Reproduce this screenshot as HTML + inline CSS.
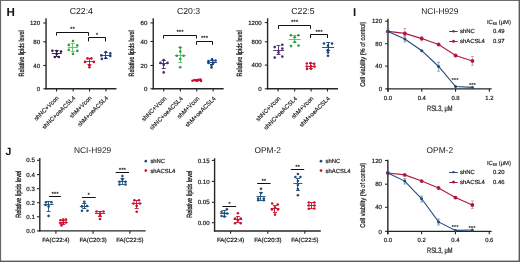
<!DOCTYPE html>
<html><head><meta charset="utf-8"><style>
html,body{margin:0;padding:0;background:#fff;}
body{width:520px;height:262px;overflow:hidden;position:relative;}
svg{position:absolute;left:0;top:0;will-change:transform;}
text{font-family:"Liberation Sans", sans-serif;text-rendering:geometricPrecision;}
</style></head><body>
<svg width="520" height="262" viewBox="0 0 520 262">
<rect x="0" y="0" width="520" height="262" fill="#fff"/>
<line x1="46.05" y1="18.30" x2="46.05" y2="89.45" stroke="#262626" stroke-width="1.4"/>
<line x1="45.35" y1="88.75" x2="116.45" y2="88.75" stroke="#262626" stroke-width="1.4"/>
<line x1="43.25" y1="88.75" x2="46.05" y2="88.75" stroke="#262626" stroke-width="1.1"/>
<text x="40.15" y="90.90" font-size="6.1" text-anchor="end" fill="#151515" font-weight="normal" stroke="#151515" stroke-width="0.18" >0</text>
<line x1="43.25" y1="65.50" x2="46.05" y2="65.50" stroke="#262626" stroke-width="1.1"/>
<text x="40.15" y="67.65" font-size="6.1" text-anchor="end" fill="#151515" font-weight="normal" stroke="#151515" stroke-width="0.18" >40</text>
<line x1="43.25" y1="41.80" x2="46.05" y2="41.80" stroke="#262626" stroke-width="1.1"/>
<text x="40.15" y="43.95" font-size="6.1" text-anchor="end" fill="#151515" font-weight="normal" stroke="#151515" stroke-width="0.18" >80</text>
<line x1="43.25" y1="23.00" x2="46.05" y2="23.00" stroke="#262626" stroke-width="1.1"/>
<text x="40.15" y="25.15" font-size="6.1" text-anchor="end" fill="#151515" font-weight="normal" stroke="#151515" stroke-width="0.18" >120</text>
<line x1="56.55" y1="88.75" x2="56.55" y2="91.55" stroke="#262626" stroke-width="1.1"/>
<text x="59.15" y="98.30" font-size="6.0" text-anchor="end" fill="#151515" stroke="#151515" stroke-width="0.15" transform="rotate(-45 59.15 98.30)">shNC+Vcon</text>
<line x1="73.15" y1="88.75" x2="73.15" y2="91.55" stroke="#262626" stroke-width="1.1"/>
<text x="75.75" y="98.30" font-size="6.0" text-anchor="end" fill="#151515" stroke="#151515" stroke-width="0.15" transform="rotate(-45 75.75 98.30)">shNC+oeACSL4</text>
<line x1="89.55" y1="88.75" x2="89.55" y2="91.55" stroke="#262626" stroke-width="1.1"/>
<text x="92.15" y="98.30" font-size="6.0" text-anchor="end" fill="#151515" stroke="#151515" stroke-width="0.15" transform="rotate(-45 92.15 98.30)">shM+Vcon</text>
<line x1="105.95" y1="88.75" x2="105.95" y2="91.55" stroke="#262626" stroke-width="1.1"/>
<text x="108.55" y="98.30" font-size="6.0" text-anchor="end" fill="#151515" stroke="#151515" stroke-width="0.15" transform="rotate(-45 108.55 98.30)">shM+oeACSL4</text>
<text x="81.35" y="13.60" font-size="8.7" text-anchor="middle" fill="#151515" font-weight="normal" >C22:4</text>
<text x="24.30" y="53.40" font-size="7.6" text-anchor="middle" fill="#111" stroke="#111" stroke-width="0.25" textLength="46" lengthAdjust="spacingAndGlyphs" transform="rotate(-90 24.30 53.40)">Relative lipids level</text>
<line x1="56.50" y1="51.00" x2="56.50" y2="56.00" stroke="#2a1845" stroke-width="0.9"/>
<line x1="54.70" y1="50.50" x2="58.70" y2="50.50" stroke="#2a1845" stroke-width="0.9"/>
<line x1="54.70" y1="56.50" x2="58.70" y2="56.50" stroke="#2a1845" stroke-width="0.9"/>
<line x1="51.70" y1="53.50" x2="61.70" y2="53.50" stroke="#2a1845" stroke-width="0.9"/>
<circle cx="52.40" cy="50.80" r="1.3" fill="#2a1845"/>
<circle cx="56.70" cy="51.10" r="1.3" fill="#2a1845"/>
<circle cx="61.00" cy="51.60" r="1.3" fill="#2a1845"/>
<circle cx="56.70" cy="54.00" r="1.3" fill="#2a1845"/>
<circle cx="54.80" cy="57.00" r="1.3" fill="#2a1845"/>
<circle cx="58.80" cy="57.00" r="1.3" fill="#2a1845"/>
<line x1="72.50" y1="43.30" x2="72.50" y2="51.40" stroke="#5cbf62" stroke-width="0.9"/>
<line x1="70.90" y1="43.50" x2="74.90" y2="43.50" stroke="#5cbf62" stroke-width="0.9"/>
<line x1="70.90" y1="51.50" x2="74.90" y2="51.50" stroke="#5cbf62" stroke-width="0.9"/>
<line x1="67.90" y1="47.50" x2="77.90" y2="47.50" stroke="#5cbf62" stroke-width="0.9"/>
<circle cx="73.00" cy="41.00" r="1.3" fill="#2f9a3e"/>
<circle cx="68.80" cy="44.90" r="1.3" fill="#2f9a3e"/>
<circle cx="77.30" cy="45.40" r="1.3" fill="#2f9a3e"/>
<circle cx="68.80" cy="49.90" r="1.3" fill="#2f9a3e"/>
<circle cx="77.30" cy="50.90" r="1.3" fill="#2f9a3e"/>
<circle cx="73.00" cy="53.90" r="1.3" fill="#2f9a3e"/>
<line x1="89.50" y1="58.50" x2="89.50" y2="65.00" stroke="#c8102e" stroke-width="0.9"/>
<line x1="87.40" y1="58.50" x2="91.40" y2="58.50" stroke="#c8102e" stroke-width="0.9"/>
<line x1="87.40" y1="64.50" x2="91.40" y2="64.50" stroke="#c8102e" stroke-width="0.9"/>
<line x1="84.90" y1="61.50" x2="93.90" y2="61.50" stroke="#c8102e" stroke-width="0.9"/>
<circle cx="87.50" cy="58.40" r="1.3" fill="#c8102e"/>
<circle cx="91.40" cy="58.40" r="1.3" fill="#c8102e"/>
<circle cx="85.00" cy="61.90" r="1.3" fill="#c8102e"/>
<circle cx="93.90" cy="61.90" r="1.3" fill="#c8102e"/>
<circle cx="89.40" cy="65.30" r="1.3" fill="#c8102e"/>
<circle cx="89.40" cy="67.30" r="1.3" fill="#c8102e"/>
<line x1="105.50" y1="52.50" x2="105.50" y2="58.30" stroke="#1a3f7e" stroke-width="0.9"/>
<line x1="103.80" y1="52.50" x2="107.80" y2="52.50" stroke="#1a3f7e" stroke-width="0.9"/>
<line x1="103.80" y1="58.50" x2="107.80" y2="58.50" stroke="#1a3f7e" stroke-width="0.9"/>
<line x1="100.80" y1="55.50" x2="110.80" y2="55.50" stroke="#1a3f7e" stroke-width="0.9"/>
<circle cx="105.80" cy="52.00" r="1.3" fill="#1a3f7e"/>
<circle cx="101.30" cy="55.40" r="1.3" fill="#1a3f7e"/>
<circle cx="110.30" cy="53.40" r="1.3" fill="#1a3f7e"/>
<circle cx="110.30" cy="55.90" r="1.3" fill="#1a3f7e"/>
<circle cx="101.80" cy="58.90" r="1.3" fill="#1a3f7e"/>
<circle cx="105.80" cy="58.00" r="1.3" fill="#1a3f7e"/>
<polyline points="56.50,35.60 56.50,32.50 88.50,32.50 88.50,35.80" fill="none" stroke="#111" stroke-width="1"/>
<text x="72.50" y="31.40" font-size="6.2" text-anchor="middle" fill="#151515" font-weight="bold" >**</text>
<polyline points="88.50,41.40 88.50,37.50 105.50,37.50 105.50,41.40" fill="none" stroke="#111" stroke-width="1"/>
<text x="97.00" y="37.20" font-size="6.2" text-anchor="middle" fill="#151515" font-weight="bold" >*</text>
<line x1="153.25" y1="18.30" x2="153.25" y2="89.45" stroke="#262626" stroke-width="1.4"/>
<line x1="152.55" y1="88.75" x2="223.65" y2="88.75" stroke="#262626" stroke-width="1.4"/>
<line x1="150.45" y1="88.75" x2="153.25" y2="88.75" stroke="#262626" stroke-width="1.1"/>
<text x="147.35" y="90.90" font-size="6.1" text-anchor="end" fill="#151515" font-weight="normal" stroke="#151515" stroke-width="0.18" >0</text>
<line x1="150.45" y1="65.50" x2="153.25" y2="65.50" stroke="#262626" stroke-width="1.1"/>
<text x="147.35" y="67.65" font-size="6.1" text-anchor="end" fill="#151515" font-weight="normal" stroke="#151515" stroke-width="0.18" >20</text>
<line x1="150.45" y1="41.50" x2="153.25" y2="41.50" stroke="#262626" stroke-width="1.1"/>
<text x="147.35" y="43.65" font-size="6.1" text-anchor="end" fill="#151515" font-weight="normal" stroke="#151515" stroke-width="0.18" >40</text>
<line x1="150.45" y1="22.90" x2="153.25" y2="22.90" stroke="#262626" stroke-width="1.1"/>
<text x="147.35" y="25.05" font-size="6.1" text-anchor="end" fill="#151515" font-weight="normal" stroke="#151515" stroke-width="0.18" >60</text>
<line x1="163.75" y1="88.75" x2="163.75" y2="91.55" stroke="#262626" stroke-width="1.1"/>
<text x="166.75" y="98.90" font-size="6.0" text-anchor="end" fill="#151515" stroke="#151515" stroke-width="0.15" transform="rotate(-45 166.75 98.90)">shNC+Vcon</text>
<line x1="180.35" y1="88.75" x2="180.35" y2="91.55" stroke="#262626" stroke-width="1.1"/>
<text x="183.35" y="98.90" font-size="6.0" text-anchor="end" fill="#151515" stroke="#151515" stroke-width="0.15" transform="rotate(-45 183.35 98.90)">shNC+oeACSL4</text>
<line x1="196.75" y1="88.75" x2="196.75" y2="91.55" stroke="#262626" stroke-width="1.1"/>
<text x="199.75" y="98.90" font-size="6.0" text-anchor="end" fill="#151515" stroke="#151515" stroke-width="0.15" transform="rotate(-45 199.75 98.90)">shM+Vcon</text>
<line x1="213.15" y1="88.75" x2="213.15" y2="91.55" stroke="#262626" stroke-width="1.1"/>
<text x="216.15" y="98.90" font-size="6.0" text-anchor="end" fill="#151515" stroke="#151515" stroke-width="0.15" transform="rotate(-45 216.15 98.90)">shM+oeACSL4</text>
<text x="188.55" y="13.60" font-size="8.7" text-anchor="middle" fill="#151515" font-weight="normal" >C20:3</text>
<text x="133.80" y="53.40" font-size="7.6" text-anchor="middle" fill="#111" stroke="#111" stroke-width="0.25" textLength="46" lengthAdjust="spacingAndGlyphs" transform="rotate(-90 133.80 53.40)">Relative lipids level</text>
<line x1="163.50" y1="60.30" x2="163.50" y2="68.20" stroke="#4a2a6e" stroke-width="0.9"/>
<line x1="161.70" y1="60.50" x2="165.70" y2="60.50" stroke="#4a2a6e" stroke-width="0.9"/>
<line x1="161.70" y1="68.50" x2="165.70" y2="68.50" stroke="#4a2a6e" stroke-width="0.9"/>
<line x1="159.20" y1="63.50" x2="168.20" y2="63.50" stroke="#4a2a6e" stroke-width="0.9"/>
<circle cx="163.70" cy="60.00" r="1.3" fill="#4a2a6e"/>
<circle cx="160.50" cy="62.90" r="1.3" fill="#4a2a6e"/>
<circle cx="167.50" cy="62.90" r="1.3" fill="#4a2a6e"/>
<circle cx="163.70" cy="64.80" r="1.3" fill="#4a2a6e"/>
<circle cx="163.70" cy="72.40" r="1.3" fill="#4a2a6e"/>
<line x1="180.50" y1="47.80" x2="180.50" y2="62.90" stroke="#5cbf62" stroke-width="0.9"/>
<line x1="178.20" y1="47.50" x2="182.20" y2="47.50" stroke="#5cbf62" stroke-width="0.9"/>
<line x1="178.20" y1="62.50" x2="182.20" y2="62.50" stroke="#5cbf62" stroke-width="0.9"/>
<line x1="174.70" y1="55.50" x2="185.70" y2="55.50" stroke="#5cbf62" stroke-width="0.9"/>
<circle cx="180.20" cy="47.60" r="1.3" fill="#2f9a3e"/>
<circle cx="180.20" cy="51.50" r="1.3" fill="#2f9a3e"/>
<circle cx="176.80" cy="55.70" r="1.3" fill="#2f9a3e"/>
<circle cx="183.60" cy="55.70" r="1.3" fill="#2f9a3e"/>
<circle cx="180.20" cy="59.00" r="1.3" fill="#2f9a3e"/>
<circle cx="180.20" cy="67.30" r="1.3" fill="#2f9a3e"/>
<line x1="196.50" y1="79.50" x2="196.50" y2="81.30" stroke="#c8102e" stroke-width="0.9"/>
<line x1="195.40" y1="79.50" x2="198.40" y2="79.50" stroke="#c8102e" stroke-width="0.9"/>
<line x1="195.40" y1="81.50" x2="198.40" y2="81.50" stroke="#c8102e" stroke-width="0.9"/>
<line x1="191.90" y1="80.50" x2="201.90" y2="80.50" stroke="#c8102e" stroke-width="0.9"/>
<circle cx="192.50" cy="80.80" r="1.3" fill="#c8102e"/>
<circle cx="194.50" cy="80.00" r="1.3" fill="#c8102e"/>
<circle cx="196.50" cy="80.30" r="1.3" fill="#c8102e"/>
<circle cx="198.50" cy="79.80" r="1.3" fill="#c8102e"/>
<circle cx="200.50" cy="79.50" r="1.3" fill="#c8102e"/>
<circle cx="201.00" cy="81.00" r="1.3" fill="#c8102e"/>
<line x1="212.50" y1="60.00" x2="212.50" y2="64.50" stroke="#1a3f7e" stroke-width="0.9"/>
<line x1="210.00" y1="60.50" x2="214.00" y2="60.50" stroke="#1a3f7e" stroke-width="0.9"/>
<line x1="210.00" y1="64.50" x2="214.00" y2="64.50" stroke="#1a3f7e" stroke-width="0.9"/>
<line x1="207.00" y1="62.50" x2="217.00" y2="62.50" stroke="#1a3f7e" stroke-width="0.9"/>
<circle cx="212.00" cy="59.40" r="1.3" fill="#1a3f7e"/>
<circle cx="208.50" cy="61.00" r="1.3" fill="#1a3f7e"/>
<circle cx="215.50" cy="60.50" r="1.3" fill="#1a3f7e"/>
<circle cx="208.50" cy="63.00" r="1.3" fill="#1a3f7e"/>
<circle cx="213.50" cy="62.80" r="1.3" fill="#1a3f7e"/>
<circle cx="211.50" cy="65.00" r="1.3" fill="#1a3f7e"/>
<circle cx="211.50" cy="67.40" r="1.3" fill="#1a3f7e"/>
<polyline points="163.50,38.50 163.50,35.50 196.50,35.50 196.50,38.50" fill="none" stroke="#111" stroke-width="1"/>
<text x="180.00" y="34.40" font-size="6.2" text-anchor="middle" fill="#151515" font-weight="bold" >***</text>
<polyline points="196.50,44.80 196.50,41.50 212.50,41.50 212.50,44.80" fill="none" stroke="#111" stroke-width="1"/>
<text x="204.50" y="40.40" font-size="6.2" text-anchor="middle" fill="#151515" font-weight="bold" >***</text>
<line x1="267.60" y1="18.30" x2="267.60" y2="89.45" stroke="#262626" stroke-width="1.4"/>
<line x1="266.90" y1="88.75" x2="338.00" y2="88.75" stroke="#262626" stroke-width="1.4"/>
<line x1="264.80" y1="88.75" x2="267.60" y2="88.75" stroke="#262626" stroke-width="1.1"/>
<text x="261.70" y="90.90" font-size="6.1" text-anchor="end" fill="#151515" font-weight="normal" stroke="#151515" stroke-width="0.18" >0</text>
<line x1="264.80" y1="65.10" x2="267.60" y2="65.10" stroke="#262626" stroke-width="1.1"/>
<text x="261.70" y="67.25" font-size="6.1" text-anchor="end" fill="#151515" font-weight="normal" stroke="#151515" stroke-width="0.18" >400</text>
<line x1="264.80" y1="41.80" x2="267.60" y2="41.80" stroke="#262626" stroke-width="1.1"/>
<text x="261.70" y="43.95" font-size="6.1" text-anchor="end" fill="#151515" font-weight="normal" stroke="#151515" stroke-width="0.18" >800</text>
<line x1="264.80" y1="22.60" x2="267.60" y2="22.60" stroke="#262626" stroke-width="1.1"/>
<text x="261.70" y="24.75" font-size="6.1" text-anchor="end" fill="#151515" font-weight="normal" stroke="#151515" stroke-width="0.18" >1200</text>
<line x1="278.10" y1="88.75" x2="278.10" y2="91.55" stroke="#262626" stroke-width="1.1"/>
<text x="280.90" y="98.90" font-size="6.0" text-anchor="end" fill="#151515" stroke="#151515" stroke-width="0.15" transform="rotate(-45 280.90 98.90)">shNC+Vcon</text>
<line x1="294.70" y1="88.75" x2="294.70" y2="91.55" stroke="#262626" stroke-width="1.1"/>
<text x="297.50" y="98.90" font-size="6.0" text-anchor="end" fill="#151515" stroke="#151515" stroke-width="0.15" transform="rotate(-45 297.50 98.90)">shNC+oeACSL4</text>
<line x1="311.10" y1="88.75" x2="311.10" y2="91.55" stroke="#262626" stroke-width="1.1"/>
<text x="313.90" y="98.90" font-size="6.0" text-anchor="end" fill="#151515" stroke="#151515" stroke-width="0.15" transform="rotate(-45 313.90 98.90)">shM+Vcon</text>
<line x1="327.50" y1="88.75" x2="327.50" y2="91.55" stroke="#262626" stroke-width="1.1"/>
<text x="330.30" y="98.90" font-size="6.0" text-anchor="end" fill="#151515" stroke="#151515" stroke-width="0.15" transform="rotate(-45 330.30 98.90)">shM+oeACSL4</text>
<text x="302.90" y="13.60" font-size="8.7" text-anchor="middle" fill="#151515" font-weight="normal" >C22:5</text>
<text x="241.80" y="53.40" font-size="7.6" text-anchor="middle" fill="#111" stroke="#111" stroke-width="0.25" textLength="46" lengthAdjust="spacingAndGlyphs" transform="rotate(-90 241.80 53.40)">Relative lipids level</text>
<line x1="278.50" y1="45.60" x2="278.50" y2="54.70" stroke="#4a2a6e" stroke-width="0.9"/>
<line x1="276.50" y1="45.50" x2="280.50" y2="45.50" stroke="#4a2a6e" stroke-width="0.9"/>
<line x1="276.50" y1="54.50" x2="280.50" y2="54.50" stroke="#4a2a6e" stroke-width="0.9"/>
<line x1="273.00" y1="50.50" x2="284.00" y2="50.50" stroke="#4a2a6e" stroke-width="0.9"/>
<circle cx="282.30" cy="44.80" r="1.3" fill="#4a2a6e"/>
<circle cx="274.70" cy="47.10" r="1.3" fill="#4a2a6e"/>
<circle cx="282.30" cy="48.60" r="1.3" fill="#4a2a6e"/>
<circle cx="278.50" cy="52.40" r="1.3" fill="#4a2a6e"/>
<circle cx="274.70" cy="57.60" r="1.3" fill="#4a2a6e"/>
<circle cx="282.30" cy="56.60" r="1.3" fill="#4a2a6e"/>
<line x1="294.50" y1="35.50" x2="294.50" y2="42.30" stroke="#5cbf62" stroke-width="0.9"/>
<line x1="292.70" y1="35.50" x2="296.70" y2="35.50" stroke="#5cbf62" stroke-width="0.9"/>
<line x1="292.70" y1="42.50" x2="296.70" y2="42.50" stroke="#5cbf62" stroke-width="0.9"/>
<line x1="288.70" y1="39.50" x2="300.70" y2="39.50" stroke="#5cbf62" stroke-width="0.9"/>
<circle cx="290.90" cy="35.30" r="1.3" fill="#2f9a3e"/>
<circle cx="298.50" cy="35.30" r="1.3" fill="#2f9a3e"/>
<circle cx="294.70" cy="37.20" r="1.3" fill="#2f9a3e"/>
<circle cx="294.70" cy="42.00" r="1.3" fill="#2f9a3e"/>
<circle cx="291.00" cy="46.10" r="1.3" fill="#2f9a3e"/>
<circle cx="298.50" cy="45.60" r="1.3" fill="#2f9a3e"/>
<line x1="310.50" y1="63.80" x2="310.50" y2="68.50" stroke="#c8102e" stroke-width="0.9"/>
<line x1="308.90" y1="63.50" x2="312.90" y2="63.50" stroke="#c8102e" stroke-width="0.9"/>
<line x1="308.90" y1="68.50" x2="312.90" y2="68.50" stroke="#c8102e" stroke-width="0.9"/>
<line x1="305.90" y1="66.50" x2="315.90" y2="66.50" stroke="#c8102e" stroke-width="0.9"/>
<circle cx="306.80" cy="63.50" r="1.3" fill="#c8102e"/>
<circle cx="310.50" cy="63.00" r="1.3" fill="#c8102e"/>
<circle cx="314.20" cy="63.80" r="1.3" fill="#c8102e"/>
<circle cx="306.80" cy="66.50" r="1.3" fill="#c8102e"/>
<circle cx="310.90" cy="66.30" r="1.3" fill="#c8102e"/>
<circle cx="314.50" cy="66.50" r="1.3" fill="#c8102e"/>
<circle cx="307.00" cy="69.00" r="1.3" fill="#c8102e"/>
<circle cx="311.00" cy="68.80" r="1.3" fill="#c8102e"/>
<line x1="328.50" y1="42.30" x2="328.50" y2="50.50" stroke="#1a3f7e" stroke-width="0.9"/>
<line x1="326.10" y1="42.50" x2="330.10" y2="42.50" stroke="#1a3f7e" stroke-width="0.9"/>
<line x1="326.10" y1="50.50" x2="330.10" y2="50.50" stroke="#1a3f7e" stroke-width="0.9"/>
<line x1="322.10" y1="47.50" x2="334.10" y2="47.50" stroke="#1a3f7e" stroke-width="0.9"/>
<circle cx="324.00" cy="43.50" r="1.3" fill="#1a3f7e"/>
<circle cx="332.00" cy="43.50" r="1.3" fill="#1a3f7e"/>
<circle cx="328.00" cy="45.60" r="1.3" fill="#1a3f7e"/>
<circle cx="328.00" cy="50.00" r="1.3" fill="#1a3f7e"/>
<circle cx="328.00" cy="52.40" r="1.3" fill="#1a3f7e"/>
<circle cx="328.00" cy="55.70" r="1.3" fill="#1a3f7e"/>
<polyline points="278.50,28.90 278.50,25.50 310.50,25.50 310.50,28.90" fill="none" stroke="#111" stroke-width="1"/>
<text x="294.50" y="24.40" font-size="6.2" text-anchor="middle" fill="#151515" font-weight="bold" >***</text>
<polyline points="310.50,38.00 310.50,34.50 327.50,34.50 327.50,38.00" fill="none" stroke="#111" stroke-width="1"/>
<text x="319.00" y="33.60" font-size="6.2" text-anchor="middle" fill="#151515" font-weight="bold" >***</text>
<line x1="39.80" y1="158.00" x2="39.80" y2="231.60" stroke="#262626" stroke-width="1.4"/>
<line x1="39.10" y1="230.90" x2="145.70" y2="230.90" stroke="#262626" stroke-width="1.4"/>
<line x1="37.00" y1="230.90" x2="39.80" y2="230.90" stroke="#262626" stroke-width="1.1"/>
<text x="34.80" y="233.05" font-size="6.1" text-anchor="end" fill="#151515" font-weight="normal" stroke="#151515" stroke-width="0.18" >0.0</text>
<line x1="37.00" y1="216.80" x2="39.80" y2="216.80" stroke="#262626" stroke-width="1.1"/>
<text x="34.80" y="218.95" font-size="6.1" text-anchor="end" fill="#151515" font-weight="normal" stroke="#151515" stroke-width="0.18" >0.1</text>
<line x1="37.00" y1="202.70" x2="39.80" y2="202.70" stroke="#262626" stroke-width="1.1"/>
<text x="34.80" y="204.85" font-size="6.1" text-anchor="end" fill="#151515" font-weight="normal" stroke="#151515" stroke-width="0.18" >0.2</text>
<line x1="37.00" y1="188.70" x2="39.80" y2="188.70" stroke="#262626" stroke-width="1.1"/>
<text x="34.80" y="190.85" font-size="6.1" text-anchor="end" fill="#151515" font-weight="normal" stroke="#151515" stroke-width="0.18" >0.3</text>
<line x1="37.00" y1="174.60" x2="39.80" y2="174.60" stroke="#262626" stroke-width="1.1"/>
<text x="34.80" y="176.75" font-size="6.1" text-anchor="end" fill="#151515" font-weight="normal" stroke="#151515" stroke-width="0.18" >0.4</text>
<line x1="37.00" y1="160.30" x2="39.80" y2="160.30" stroke="#262626" stroke-width="1.1"/>
<text x="34.80" y="162.45" font-size="6.1" text-anchor="end" fill="#151515" font-weight="normal" stroke="#151515" stroke-width="0.18" >0.5</text>
<line x1="55.90" y1="230.90" x2="55.90" y2="233.70" stroke="#262626" stroke-width="1.1"/>
<text x="55.90" y="241.90" font-size="6" text-anchor="middle" fill="#151515" font-weight="normal" stroke="#151515" stroke-width="0.18" >FA(C22:4)</text>
<line x1="93.10" y1="230.90" x2="93.10" y2="233.70" stroke="#262626" stroke-width="1.1"/>
<text x="93.10" y="241.90" font-size="6" text-anchor="middle" fill="#151515" font-weight="normal" stroke="#151515" stroke-width="0.18" >FA(C20:3)</text>
<line x1="129.80" y1="230.90" x2="129.80" y2="233.70" stroke="#262626" stroke-width="1.1"/>
<text x="129.80" y="241.90" font-size="6" text-anchor="middle" fill="#151515" font-weight="normal" stroke="#151515" stroke-width="0.18" >FA(C22:5)</text>
<text x="92.60" y="152.90" font-size="8.4" text-anchor="middle" fill="#151515" font-weight="normal" >NCI-H929</text>
<text x="21.00" y="194.30" font-size="7.6" text-anchor="middle" fill="#111" stroke="#111" stroke-width="0.25" textLength="47" lengthAdjust="spacingAndGlyphs" transform="rotate(-90 21.00 194.30)">Relative lipids level</text>
<circle cx="145.80" cy="161.20" r="1.35" fill="#1f4e79"/>
<text x="150.40" y="163.20" font-size="5.9" text-anchor="start" fill="#151515" font-weight="normal" stroke="#151515" stroke-width="0.18" >shNC</text>
<circle cx="145.80" cy="170.60" r="1.35" fill="#c8102e"/>
<text x="150.40" y="172.60" font-size="5.9" text-anchor="start" fill="#151515" font-weight="normal" stroke="#151515" stroke-width="0.18" >shACSL4</text>
<line x1="48.50" y1="201.30" x2="48.50" y2="211.60" stroke="#1f4e79" stroke-width="0.9"/>
<line x1="46.60" y1="201.50" x2="50.60" y2="201.50" stroke="#1f4e79" stroke-width="0.9"/>
<line x1="46.60" y1="211.50" x2="50.60" y2="211.50" stroke="#1f4e79" stroke-width="0.9"/>
<line x1="43.60" y1="204.50" x2="53.60" y2="204.50" stroke="#1f4e79" stroke-width="0.9"/>
<circle cx="46.00" cy="202.20" r="1.3" fill="#1f4e79"/>
<circle cx="51.50" cy="202.20" r="1.3" fill="#1f4e79"/>
<circle cx="48.60" cy="206.40" r="1.3" fill="#1f4e79"/>
<circle cx="45.50" cy="205.00" r="1.3" fill="#1f4e79"/>
<circle cx="48.60" cy="215.90" r="1.3" fill="#1f4e79"/>
<line x1="63.50" y1="220.00" x2="63.50" y2="225.00" stroke="#c8102e" stroke-width="0.9"/>
<line x1="61.20" y1="220.50" x2="65.20" y2="220.50" stroke="#c8102e" stroke-width="0.9"/>
<line x1="61.20" y1="224.50" x2="65.20" y2="224.50" stroke="#c8102e" stroke-width="0.9"/>
<line x1="58.70" y1="222.50" x2="67.70" y2="222.50" stroke="#c8102e" stroke-width="0.9"/>
<circle cx="60.50" cy="220.20" r="1.3" fill="#c8102e"/>
<circle cx="63.20" cy="219.60" r="1.3" fill="#c8102e"/>
<circle cx="66.00" cy="219.60" r="1.3" fill="#c8102e"/>
<circle cx="60.50" cy="223.50" r="1.3" fill="#c8102e"/>
<circle cx="63.20" cy="222.80" r="1.3" fill="#c8102e"/>
<circle cx="66.00" cy="222.50" r="1.3" fill="#c8102e"/>
<circle cx="61.50" cy="225.50" r="1.3" fill="#c8102e"/>
<line x1="48.90" y1="196.50" x2="60.90" y2="196.50" stroke="#111" stroke-width="1.0"/>
<text x="55.00" y="196.00" font-size="6.2" text-anchor="middle" fill="#151515" font-weight="bold" >***</text>
<line x1="84.50" y1="203.90" x2="84.50" y2="209.00" stroke="#1f4e79" stroke-width="0.9"/>
<line x1="82.30" y1="203.50" x2="86.30" y2="203.50" stroke="#1f4e79" stroke-width="0.9"/>
<line x1="82.30" y1="208.50" x2="86.30" y2="208.50" stroke="#1f4e79" stroke-width="0.9"/>
<line x1="79.80" y1="206.50" x2="88.80" y2="206.50" stroke="#1f4e79" stroke-width="0.9"/>
<circle cx="84.30" cy="201.80" r="1.3" fill="#1f4e79"/>
<circle cx="82.00" cy="206.40" r="1.3" fill="#1f4e79"/>
<circle cx="87.00" cy="206.00" r="1.3" fill="#1f4e79"/>
<circle cx="82.00" cy="210.70" r="1.3" fill="#1f4e79"/>
<circle cx="87.50" cy="210.70" r="1.3" fill="#1f4e79"/>
<line x1="100.50" y1="211.20" x2="100.50" y2="217.00" stroke="#c8102e" stroke-width="0.9"/>
<line x1="98.00" y1="211.50" x2="102.00" y2="211.50" stroke="#c8102e" stroke-width="0.9"/>
<line x1="98.00" y1="216.50" x2="102.00" y2="216.50" stroke="#c8102e" stroke-width="0.9"/>
<line x1="95.00" y1="213.50" x2="105.00" y2="213.50" stroke="#c8102e" stroke-width="0.9"/>
<circle cx="96.50" cy="211.50" r="1.3" fill="#c8102e"/>
<circle cx="103.50" cy="211.50" r="1.3" fill="#c8102e"/>
<circle cx="100.00" cy="213.50" r="1.3" fill="#c8102e"/>
<circle cx="100.00" cy="215.50" r="1.3" fill="#c8102e"/>
<circle cx="100.00" cy="219.00" r="1.3" fill="#c8102e"/>
<line x1="82.00" y1="197.50" x2="95.70" y2="197.50" stroke="#111" stroke-width="1.0"/>
<text x="88.60" y="197.00" font-size="6.2" text-anchor="middle" fill="#151515" font-weight="bold" >*</text>
<line x1="122.50" y1="178.00" x2="122.50" y2="184.00" stroke="#1f4e79" stroke-width="0.9"/>
<line x1="120.40" y1="178.50" x2="124.40" y2="178.50" stroke="#1f4e79" stroke-width="0.9"/>
<line x1="120.40" y1="184.50" x2="124.40" y2="184.50" stroke="#1f4e79" stroke-width="0.9"/>
<line x1="117.90" y1="181.50" x2="126.90" y2="181.50" stroke="#1f4e79" stroke-width="0.9"/>
<circle cx="122.40" cy="176.10" r="1.3" fill="#1f4e79"/>
<circle cx="119.50" cy="181.80" r="1.3" fill="#1f4e79"/>
<circle cx="125.50" cy="181.80" r="1.3" fill="#1f4e79"/>
<circle cx="119.50" cy="184.50" r="1.3" fill="#1f4e79"/>
<circle cx="125.50" cy="184.50" r="1.3" fill="#1f4e79"/>
<circle cx="122.40" cy="179.50" r="1.3" fill="#1f4e79"/>
<line x1="136.50" y1="200.50" x2="136.50" y2="208.00" stroke="#c8102e" stroke-width="0.9"/>
<line x1="134.70" y1="200.50" x2="138.70" y2="200.50" stroke="#c8102e" stroke-width="0.9"/>
<line x1="134.70" y1="208.50" x2="138.70" y2="208.50" stroke="#c8102e" stroke-width="0.9"/>
<line x1="131.70" y1="203.50" x2="141.70" y2="203.50" stroke="#c8102e" stroke-width="0.9"/>
<circle cx="134.40" cy="200.30" r="1.3" fill="#c8102e"/>
<circle cx="139.00" cy="200.30" r="1.3" fill="#c8102e"/>
<circle cx="133.50" cy="203.50" r="1.3" fill="#c8102e"/>
<circle cx="139.80" cy="203.50" r="1.3" fill="#c8102e"/>
<circle cx="136.70" cy="206.00" r="1.3" fill="#c8102e"/>
<circle cx="136.70" cy="211.80" r="1.3" fill="#c8102e"/>
<line x1="115.70" y1="172.50" x2="129.00" y2="172.50" stroke="#111" stroke-width="1.0"/>
<text x="122.40" y="171.70" font-size="6.2" text-anchor="middle" fill="#151515" font-weight="bold" >***</text>
<line x1="214.60" y1="158.30" x2="214.60" y2="231.70" stroke="#262626" stroke-width="1.4"/>
<line x1="213.90" y1="231.00" x2="320.80" y2="231.00" stroke="#262626" stroke-width="1.4"/>
<line x1="211.80" y1="222.70" x2="214.60" y2="222.70" stroke="#262626" stroke-width="1.1"/>
<text x="209.60" y="224.85" font-size="6.1" text-anchor="end" fill="#151515" font-weight="normal" stroke="#151515" stroke-width="0.18" >0.00</text>
<line x1="211.80" y1="202.30" x2="214.60" y2="202.30" stroke="#262626" stroke-width="1.1"/>
<text x="209.60" y="204.45" font-size="6.1" text-anchor="end" fill="#151515" font-weight="normal" stroke="#151515" stroke-width="0.18" >0.05</text>
<line x1="211.80" y1="181.40" x2="214.60" y2="181.40" stroke="#262626" stroke-width="1.1"/>
<text x="209.60" y="183.55" font-size="6.1" text-anchor="end" fill="#151515" font-weight="normal" stroke="#151515" stroke-width="0.18" >0.10</text>
<line x1="211.80" y1="160.40" x2="214.60" y2="160.40" stroke="#262626" stroke-width="1.1"/>
<text x="209.60" y="162.55" font-size="6.1" text-anchor="end" fill="#151515" font-weight="normal" stroke="#151515" stroke-width="0.18" >0.15</text>
<line x1="230.60" y1="231.00" x2="230.60" y2="233.80" stroke="#262626" stroke-width="1.1"/>
<text x="230.60" y="241.90" font-size="6" text-anchor="middle" fill="#151515" font-weight="normal" stroke="#151515" stroke-width="0.18" >FA(C22:4)</text>
<line x1="267.80" y1="231.00" x2="267.80" y2="233.80" stroke="#262626" stroke-width="1.1"/>
<text x="267.80" y="241.90" font-size="6" text-anchor="middle" fill="#151515" font-weight="normal" stroke="#151515" stroke-width="0.18" >FA(C20:3)</text>
<line x1="304.80" y1="231.00" x2="304.80" y2="233.80" stroke="#262626" stroke-width="1.1"/>
<text x="304.80" y="241.90" font-size="6" text-anchor="middle" fill="#151515" font-weight="normal" stroke="#151515" stroke-width="0.18" >FA(C22:5)</text>
<text x="267.70" y="152.90" font-size="8.4" text-anchor="middle" fill="#151515" font-weight="normal" >OPM-2</text>
<text x="191.80" y="194.30" font-size="7.6" text-anchor="middle" fill="#111" stroke="#111" stroke-width="0.25" textLength="47" lengthAdjust="spacingAndGlyphs" transform="rotate(-90 191.80 194.30)">Relative lipids level</text>
<circle cx="321.00" cy="161.20" r="1.35" fill="#1f4e79"/>
<text x="325.60" y="163.20" font-size="5.9" text-anchor="start" fill="#151515" font-weight="normal" stroke="#151515" stroke-width="0.18" >shNC</text>
<circle cx="321.00" cy="170.60" r="1.35" fill="#c8102e"/>
<text x="325.60" y="172.60" font-size="5.9" text-anchor="start" fill="#151515" font-weight="normal" stroke="#151515" stroke-width="0.18" >shACSL4</text>
<line x1="224.50" y1="211.00" x2="224.50" y2="216.00" stroke="#1f4e79" stroke-width="0.9"/>
<line x1="222.40" y1="210.50" x2="226.40" y2="210.50" stroke="#1f4e79" stroke-width="0.9"/>
<line x1="222.40" y1="216.50" x2="226.40" y2="216.50" stroke="#1f4e79" stroke-width="0.9"/>
<line x1="219.90" y1="213.50" x2="228.90" y2="213.50" stroke="#1f4e79" stroke-width="0.9"/>
<circle cx="226.90" cy="209.30" r="1.3" fill="#1f4e79"/>
<circle cx="221.60" cy="211.80" r="1.3" fill="#1f4e79"/>
<circle cx="224.40" cy="213.30" r="1.3" fill="#1f4e79"/>
<circle cx="227.20" cy="213.50" r="1.3" fill="#1f4e79"/>
<circle cx="221.60" cy="216.00" r="1.3" fill="#1f4e79"/>
<circle cx="224.40" cy="216.60" r="1.3" fill="#1f4e79"/>
<line x1="237.50" y1="216.00" x2="237.50" y2="223.00" stroke="#c8102e" stroke-width="0.9"/>
<line x1="235.90" y1="216.50" x2="239.90" y2="216.50" stroke="#c8102e" stroke-width="0.9"/>
<line x1="235.90" y1="222.50" x2="239.90" y2="222.50" stroke="#c8102e" stroke-width="0.9"/>
<line x1="233.40" y1="219.50" x2="242.40" y2="219.50" stroke="#c8102e" stroke-width="0.9"/>
<circle cx="237.90" cy="213.20" r="1.3" fill="#c8102e"/>
<circle cx="235.10" cy="218.50" r="1.3" fill="#c8102e"/>
<circle cx="240.70" cy="218.50" r="1.3" fill="#c8102e"/>
<circle cx="237.90" cy="220.50" r="1.3" fill="#c8102e"/>
<circle cx="235.10" cy="223.30" r="1.3" fill="#c8102e"/>
<circle cx="240.70" cy="223.30" r="1.3" fill="#c8102e"/>
<line x1="222.50" y1="206.50" x2="236.00" y2="206.50" stroke="#111" stroke-width="1.0"/>
<text x="229.40" y="205.80" font-size="6.2" text-anchor="middle" fill="#151515" font-weight="bold" >*</text>
<line x1="260.50" y1="192.50" x2="260.50" y2="200.00" stroke="#1f4e79" stroke-width="0.9"/>
<line x1="259.00" y1="192.50" x2="263.00" y2="192.50" stroke="#1f4e79" stroke-width="0.9"/>
<line x1="259.00" y1="200.50" x2="263.00" y2="200.50" stroke="#1f4e79" stroke-width="0.9"/>
<line x1="256.50" y1="196.50" x2="265.50" y2="196.50" stroke="#1f4e79" stroke-width="0.9"/>
<circle cx="261.00" cy="188.80" r="1.3" fill="#1f4e79"/>
<circle cx="261.00" cy="193.00" r="1.3" fill="#1f4e79"/>
<circle cx="258.20" cy="198.50" r="1.3" fill="#1f4e79"/>
<circle cx="263.80" cy="198.50" r="1.3" fill="#1f4e79"/>
<circle cx="258.20" cy="200.20" r="1.3" fill="#1f4e79"/>
<circle cx="263.80" cy="200.20" r="1.3" fill="#1f4e79"/>
<line x1="274.50" y1="205.50" x2="274.50" y2="212.50" stroke="#c8102e" stroke-width="0.9"/>
<line x1="273.00" y1="205.50" x2="277.00" y2="205.50" stroke="#c8102e" stroke-width="0.9"/>
<line x1="273.00" y1="212.50" x2="277.00" y2="212.50" stroke="#c8102e" stroke-width="0.9"/>
<line x1="270.50" y1="208.50" x2="279.50" y2="208.50" stroke="#c8102e" stroke-width="0.9"/>
<circle cx="272.20" cy="203.50" r="1.3" fill="#c8102e"/>
<circle cx="277.80" cy="204.50" r="1.3" fill="#c8102e"/>
<circle cx="275.00" cy="207.50" r="1.3" fill="#c8102e"/>
<circle cx="272.00" cy="209.50" r="1.3" fill="#c8102e"/>
<circle cx="278.00" cy="209.50" r="1.3" fill="#c8102e"/>
<circle cx="275.00" cy="214.60" r="1.3" fill="#c8102e"/>
<line x1="257.10" y1="183.50" x2="270.60" y2="183.50" stroke="#111" stroke-width="1.0"/>
<text x="263.80" y="183.40" font-size="6.2" text-anchor="middle" fill="#151515" font-weight="bold" >**</text>
<line x1="297.50" y1="178.00" x2="297.50" y2="190.00" stroke="#1f4e79" stroke-width="0.9"/>
<line x1="295.90" y1="178.50" x2="299.90" y2="178.50" stroke="#1f4e79" stroke-width="0.9"/>
<line x1="295.90" y1="190.50" x2="299.90" y2="190.50" stroke="#1f4e79" stroke-width="0.9"/>
<line x1="293.40" y1="183.50" x2="302.40" y2="183.50" stroke="#1f4e79" stroke-width="0.9"/>
<circle cx="297.90" cy="174.00" r="1.3" fill="#1f4e79"/>
<circle cx="295.40" cy="177.00" r="1.3" fill="#1f4e79"/>
<circle cx="300.40" cy="177.00" r="1.3" fill="#1f4e79"/>
<circle cx="297.90" cy="181.00" r="1.3" fill="#1f4e79"/>
<circle cx="297.90" cy="185.00" r="1.3" fill="#1f4e79"/>
<circle cx="297.90" cy="189.00" r="1.3" fill="#1f4e79"/>
<circle cx="297.90" cy="195.20" r="1.3" fill="#1f4e79"/>
<line x1="311.50" y1="203.00" x2="311.50" y2="208.50" stroke="#c8102e" stroke-width="0.9"/>
<line x1="309.60" y1="202.50" x2="313.60" y2="202.50" stroke="#c8102e" stroke-width="0.9"/>
<line x1="309.60" y1="208.50" x2="313.60" y2="208.50" stroke="#c8102e" stroke-width="0.9"/>
<line x1="307.10" y1="205.50" x2="316.10" y2="205.50" stroke="#c8102e" stroke-width="0.9"/>
<circle cx="308.80" cy="202.50" r="1.3" fill="#c8102e"/>
<circle cx="314.40" cy="202.50" r="1.3" fill="#c8102e"/>
<circle cx="308.80" cy="205.50" r="1.3" fill="#c8102e"/>
<circle cx="314.40" cy="205.50" r="1.3" fill="#c8102e"/>
<circle cx="308.80" cy="208.80" r="1.3" fill="#c8102e"/>
<circle cx="314.40" cy="208.50" r="1.3" fill="#c8102e"/>
<line x1="290.80" y1="169.50" x2="304.20" y2="169.50" stroke="#111" stroke-width="1.0"/>
<text x="297.60" y="168.80" font-size="6.2" text-anchor="middle" fill="#151515" font-weight="bold" >**</text>
<line x1="387.95" y1="18.80" x2="387.95" y2="91.65" stroke="#262626" stroke-width="1.4"/>
<line x1="387.25" y1="88.85" x2="491.70" y2="88.85" stroke="#262626" stroke-width="1.4"/>
<line x1="385.15" y1="88.85" x2="387.95" y2="88.85" stroke="#262626" stroke-width="1.1"/>
<text x="382.05" y="91.00" font-size="6.1" text-anchor="end" fill="#151515" font-weight="normal" stroke="#151515" stroke-width="0.18" >0</text>
<line x1="385.15" y1="66.10" x2="387.95" y2="66.10" stroke="#262626" stroke-width="1.1"/>
<text x="382.05" y="68.25" font-size="6.1" text-anchor="end" fill="#151515" font-weight="normal" stroke="#151515" stroke-width="0.18" >40</text>
<line x1="385.15" y1="43.70" x2="387.95" y2="43.70" stroke="#262626" stroke-width="1.1"/>
<text x="382.05" y="45.85" font-size="6.1" text-anchor="end" fill="#151515" font-weight="normal" stroke="#151515" stroke-width="0.18" >80</text>
<line x1="385.15" y1="21.20" x2="387.95" y2="21.20" stroke="#262626" stroke-width="1.1"/>
<text x="382.05" y="23.35" font-size="6.1" text-anchor="end" fill="#151515" font-weight="normal" stroke="#151515" stroke-width="0.18" >120</text>
<line x1="387.95" y1="88.85" x2="387.95" y2="91.65" stroke="#262626" stroke-width="1.1"/>
<text x="387.95" y="99.85" font-size="5.9" text-anchor="middle" fill="#151515" font-weight="normal" stroke="#151515" stroke-width="0.18" >0.0</text>
<line x1="421.75" y1="88.85" x2="421.75" y2="91.65" stroke="#262626" stroke-width="1.1"/>
<text x="421.75" y="99.85" font-size="5.9" text-anchor="middle" fill="#151515" font-weight="normal" stroke="#151515" stroke-width="0.18" >0.4</text>
<line x1="455.55" y1="88.85" x2="455.55" y2="91.65" stroke="#262626" stroke-width="1.1"/>
<text x="455.55" y="99.85" font-size="5.9" text-anchor="middle" fill="#151515" font-weight="normal" stroke="#151515" stroke-width="0.18" >0.8</text>
<line x1="489.35" y1="88.85" x2="489.35" y2="91.65" stroke="#262626" stroke-width="1.1"/>
<text x="489.35" y="99.85" font-size="5.9" text-anchor="middle" fill="#151515" font-weight="normal" stroke="#151515" stroke-width="0.18" >1.2</text>
<text x="439.80" y="13.60" font-size="8.4" text-anchor="middle" fill="#151515" font-weight="normal" >NCI-H929</text>
<text x="439.80" y="110.50" font-size="7.8" text-anchor="middle" fill="#151515" font-weight="normal" textLength="25.5" lengthAdjust="spacingAndGlyphs" stroke="#222" stroke-width="0.2">RSL3, μM</text>
<text x="365.30" y="54.20" font-size="6.9" text-anchor="middle" fill="#111" stroke="#111" stroke-width="0.2" textLength="65.2" lengthAdjust="spacingAndGlyphs" transform="rotate(-90 365.30 54.20)">Cell viability (% of control)</text>
<polyline points="387.95,31.40 404.85,33.40 421.75,38.60 438.65,44.50 455.55,55.50 472.45,60.90" fill="none" stroke="#b0183a" stroke-width="1.1"/>
<polyline points="387.95,31.40 404.85,39.00 421.75,50.70 438.65,66.50 455.55,86.50 472.45,87.40" fill="none" stroke="#23497a" stroke-width="1.1"/>
<line x1="404.85" y1="28.50" x2="404.85" y2="36.50" stroke="#d9788a" stroke-width="0.7"/>
<line x1="403.35" y1="28.50" x2="406.35" y2="28.50" stroke="#d9788a" stroke-width="0.7"/>
<line x1="403.35" y1="36.50" x2="406.35" y2="36.50" stroke="#d9788a" stroke-width="0.7"/>
<line x1="421.75" y1="36.50" x2="421.75" y2="41.00" stroke="#d9788a" stroke-width="0.7"/>
<line x1="420.25" y1="36.50" x2="423.25" y2="36.50" stroke="#d9788a" stroke-width="0.7"/>
<line x1="420.25" y1="41.00" x2="423.25" y2="41.00" stroke="#d9788a" stroke-width="0.7"/>
<line x1="472.45" y1="56.40" x2="472.45" y2="65.30" stroke="#d9788a" stroke-width="0.7"/>
<line x1="470.95" y1="56.40" x2="473.95" y2="56.40" stroke="#d9788a" stroke-width="0.7"/>
<line x1="470.95" y1="65.30" x2="473.95" y2="65.30" stroke="#d9788a" stroke-width="0.7"/>
<line x1="387.95" y1="28.50" x2="387.95" y2="34.50" stroke="#6f86a6" stroke-width="0.7"/>
<line x1="386.45" y1="28.50" x2="389.45" y2="28.50" stroke="#6f86a6" stroke-width="0.7"/>
<line x1="386.45" y1="34.50" x2="389.45" y2="34.50" stroke="#6f86a6" stroke-width="0.7"/>
<line x1="404.85" y1="35.20" x2="404.85" y2="41.90" stroke="#6f86a6" stroke-width="0.7"/>
<line x1="403.35" y1="35.20" x2="406.35" y2="35.20" stroke="#6f86a6" stroke-width="0.7"/>
<line x1="403.35" y1="41.90" x2="406.35" y2="41.90" stroke="#6f86a6" stroke-width="0.7"/>
<line x1="438.65" y1="62.20" x2="438.65" y2="71.20" stroke="#6f86a6" stroke-width="0.7"/>
<line x1="437.15" y1="62.20" x2="440.15" y2="62.20" stroke="#6f86a6" stroke-width="0.7"/>
<line x1="437.15" y1="71.20" x2="440.15" y2="71.20" stroke="#6f86a6" stroke-width="0.7"/>
<circle cx="387.95" cy="31.40" r="1.9" fill="#b0183a"/>
<circle cx="404.85" cy="33.40" r="1.9" fill="#b0183a"/>
<circle cx="421.75" cy="38.60" r="1.9" fill="#b0183a"/>
<circle cx="438.65" cy="44.50" r="1.9" fill="#b0183a"/>
<circle cx="455.55" cy="55.50" r="1.9" fill="#b0183a"/>
<circle cx="472.45" cy="60.90" r="1.9" fill="#b0183a"/>
<circle cx="387.95" cy="31.40" r="1.5" fill="#23497a"/>
<circle cx="404.85" cy="39.00" r="1.5" fill="#23497a"/>
<circle cx="421.75" cy="50.70" r="1.5" fill="#23497a"/>
<circle cx="438.65" cy="66.50" r="1.5" fill="#23497a"/>
<circle cx="455.55" cy="86.50" r="1.5" fill="#23497a"/>
<circle cx="472.45" cy="87.40" r="1.5" fill="#23497a"/>
<text x="455.00" y="82.40" font-size="6.0" text-anchor="middle" fill="#151515" font-weight="bold" >***</text>
<text x="472.40" y="86.50" font-size="6.0" text-anchor="middle" fill="#151515" font-weight="bold" >***</text>
<text x="486.9" y="24.00" font-size="5.9" fill="#151515" stroke="#151515" stroke-width="0.15">IC<tspan font-size="3.8" dy="1.2">50</tspan><tspan dy="-1.2"> (μM)</tspan></text>
<line x1="449.20" y1="31.50" x2="457.70" y2="31.50" stroke="#23497a" stroke-width="1.0"/>
<circle cx="453.50" cy="31.20" r="1.2" fill="#23497a"/>
<line x1="449.20" y1="41.50" x2="457.70" y2="41.50" stroke="#b0183a" stroke-width="1.0"/>
<circle cx="453.50" cy="41.20" r="1.5" fill="#b0183a"/>
<text x="460.00" y="33.30" font-size="5.9" text-anchor="start" fill="#151515" font-weight="normal" stroke="#151515" stroke-width="0.18" >shNC</text>
<text x="460.00" y="43.30" font-size="5.9" text-anchor="start" fill="#151515" font-weight="normal" stroke="#151515" stroke-width="0.18" >shACSL4</text>
<text x="493.00" y="33.30" font-size="5.9" text-anchor="start" fill="#151515" font-weight="normal" stroke="#151515" stroke-width="0.18" >0.49</text>
<text x="493.00" y="43.30" font-size="5.9" text-anchor="start" fill="#151515" font-weight="normal" stroke="#151515" stroke-width="0.18" >0.97</text>
<line x1="387.85" y1="159.70" x2="387.85" y2="234.15" stroke="#262626" stroke-width="1.4"/>
<line x1="387.15" y1="231.35" x2="491.60" y2="231.35" stroke="#262626" stroke-width="1.4"/>
<line x1="385.05" y1="231.35" x2="387.85" y2="231.35" stroke="#262626" stroke-width="1.1"/>
<text x="381.95" y="233.50" font-size="6.1" text-anchor="end" fill="#151515" font-weight="normal" stroke="#151515" stroke-width="0.18" >0</text>
<line x1="385.05" y1="207.30" x2="387.85" y2="207.30" stroke="#262626" stroke-width="1.1"/>
<text x="381.95" y="209.45" font-size="6.1" text-anchor="end" fill="#151515" font-weight="normal" stroke="#151515" stroke-width="0.18" >40</text>
<line x1="385.05" y1="184.20" x2="387.85" y2="184.20" stroke="#262626" stroke-width="1.1"/>
<text x="381.95" y="186.35" font-size="6.1" text-anchor="end" fill="#151515" font-weight="normal" stroke="#151515" stroke-width="0.18" >80</text>
<line x1="385.05" y1="160.50" x2="387.85" y2="160.50" stroke="#262626" stroke-width="1.1"/>
<text x="381.95" y="162.65" font-size="6.1" text-anchor="end" fill="#151515" font-weight="normal" stroke="#151515" stroke-width="0.18" >120</text>
<line x1="387.85" y1="231.35" x2="387.85" y2="234.15" stroke="#262626" stroke-width="1.1"/>
<text x="387.85" y="242.35" font-size="5.9" text-anchor="middle" fill="#151515" font-weight="normal" stroke="#151515" stroke-width="0.18" >0.0</text>
<line x1="421.65" y1="231.35" x2="421.65" y2="234.15" stroke="#262626" stroke-width="1.1"/>
<text x="421.65" y="242.35" font-size="5.9" text-anchor="middle" fill="#151515" font-weight="normal" stroke="#151515" stroke-width="0.18" >0.2</text>
<line x1="455.45" y1="231.35" x2="455.45" y2="234.15" stroke="#262626" stroke-width="1.1"/>
<text x="455.45" y="242.35" font-size="5.9" text-anchor="middle" fill="#151515" font-weight="normal" stroke="#151515" stroke-width="0.18" >0.4</text>
<line x1="489.25" y1="231.35" x2="489.25" y2="234.15" stroke="#262626" stroke-width="1.1"/>
<text x="489.25" y="242.35" font-size="5.9" text-anchor="middle" fill="#151515" font-weight="normal" stroke="#151515" stroke-width="0.18" >0.6</text>
<text x="439.80" y="153.30" font-size="8.4" text-anchor="middle" fill="#151515" font-weight="normal" >OPM-2</text>
<text x="439.80" y="253.10" font-size="7.8" text-anchor="middle" fill="#151515" font-weight="normal" textLength="25.5" lengthAdjust="spacingAndGlyphs" stroke="#222" stroke-width="0.2">RSL3, μM</text>
<text x="365.30" y="195.10" font-size="6.9" text-anchor="middle" fill="#111" stroke="#111" stroke-width="0.2" textLength="65.2" lengthAdjust="spacingAndGlyphs" transform="rotate(-90 365.30 195.10)">Cell viability (% of control)</text>
<polyline points="387.85,173.00 404.75,174.90 421.65,181.10 438.55,188.00 455.45,197.60 472.35,205.00" fill="none" stroke="#b0183a" stroke-width="1.1"/>
<polyline points="387.85,173.00 404.75,181.10 421.65,198.80 438.55,221.90 455.45,230.40 472.35,230.00" fill="none" stroke="#23497a" stroke-width="1.1"/>
<line x1="472.35" y1="200.90" x2="472.35" y2="208.50" stroke="#d9788a" stroke-width="0.7"/>
<line x1="470.85" y1="200.90" x2="473.85" y2="200.90" stroke="#d9788a" stroke-width="0.7"/>
<line x1="470.85" y1="208.50" x2="473.85" y2="208.50" stroke="#d9788a" stroke-width="0.7"/>
<line x1="404.75" y1="178.50" x2="404.75" y2="184.00" stroke="#6f86a6" stroke-width="0.7"/>
<line x1="403.25" y1="178.50" x2="406.25" y2="178.50" stroke="#6f86a6" stroke-width="0.7"/>
<line x1="403.25" y1="184.00" x2="406.25" y2="184.00" stroke="#6f86a6" stroke-width="0.7"/>
<line x1="421.65" y1="196.00" x2="421.65" y2="202.00" stroke="#6f86a6" stroke-width="0.7"/>
<line x1="420.15" y1="196.00" x2="423.15" y2="196.00" stroke="#6f86a6" stroke-width="0.7"/>
<line x1="420.15" y1="202.00" x2="423.15" y2="202.00" stroke="#6f86a6" stroke-width="0.7"/>
<line x1="438.55" y1="219.00" x2="438.55" y2="225.00" stroke="#6f86a6" stroke-width="0.7"/>
<line x1="437.05" y1="219.00" x2="440.05" y2="219.00" stroke="#6f86a6" stroke-width="0.7"/>
<line x1="437.05" y1="225.00" x2="440.05" y2="225.00" stroke="#6f86a6" stroke-width="0.7"/>
<circle cx="387.85" cy="173.00" r="1.9" fill="#b0183a"/>
<circle cx="404.75" cy="174.90" r="1.9" fill="#b0183a"/>
<circle cx="421.65" cy="181.10" r="1.9" fill="#b0183a"/>
<circle cx="438.55" cy="188.00" r="1.9" fill="#b0183a"/>
<circle cx="455.45" cy="197.60" r="1.9" fill="#b0183a"/>
<circle cx="472.35" cy="205.00" r="1.9" fill="#b0183a"/>
<circle cx="387.85" cy="173.00" r="1.5" fill="#23497a"/>
<circle cx="404.75" cy="181.10" r="1.5" fill="#23497a"/>
<circle cx="421.65" cy="198.80" r="1.5" fill="#23497a"/>
<circle cx="438.55" cy="221.90" r="1.5" fill="#23497a"/>
<circle cx="455.45" cy="230.40" r="1.5" fill="#23497a"/>
<circle cx="472.35" cy="230.00" r="1.5" fill="#23497a"/>
<text x="455.00" y="228.80" font-size="6.0" text-anchor="middle" fill="#151515" font-weight="bold" >***</text>
<text x="472.00" y="230.00" font-size="6.0" text-anchor="middle" fill="#151515" font-weight="bold" >***</text>
<text x="486.9" y="164.90" font-size="5.9" fill="#151515" stroke="#151515" stroke-width="0.15">IC<tspan font-size="3.8" dy="1.2">50</tspan><tspan dy="-1.2"> (μM)</tspan></text>
<line x1="449.20" y1="172.50" x2="457.70" y2="172.50" stroke="#23497a" stroke-width="1.0"/>
<circle cx="453.50" cy="172.10" r="1.2" fill="#23497a"/>
<line x1="449.20" y1="182.50" x2="457.70" y2="182.50" stroke="#b0183a" stroke-width="1.0"/>
<circle cx="453.50" cy="182.10" r="1.5" fill="#b0183a"/>
<text x="460.00" y="174.20" font-size="5.9" text-anchor="start" fill="#151515" font-weight="normal" stroke="#151515" stroke-width="0.18" >shNC</text>
<text x="460.00" y="184.20" font-size="5.9" text-anchor="start" fill="#151515" font-weight="normal" stroke="#151515" stroke-width="0.18" >shACSL4</text>
<text x="493.00" y="174.20" font-size="5.9" text-anchor="start" fill="#151515" font-weight="normal" stroke="#151515" stroke-width="0.18" >0.20</text>
<text x="493.00" y="184.20" font-size="5.9" text-anchor="start" fill="#151515" font-weight="normal" stroke="#151515" stroke-width="0.18" >0.46</text>
<text x="6.50" y="16.10" font-size="11.6" text-anchor="start" fill="#111" font-weight="bold" >H</text>
<text x="353.10" y="16.00" font-size="11.4" text-anchor="start" fill="#111" font-weight="bold" >I</text>
<text x="5.40" y="155.20" font-size="10.5" text-anchor="start" fill="#111" font-weight="bold" >J</text>
<rect x="0" y="0" width="520" height="1" fill="#6e6e6e"/>
<rect x="0" y="0" width="1.1" height="262" fill="#666"/>
<rect x="0" y="260.6" width="520" height="1.4" fill="#5a5a5a"/>
<rect x="518.6" y="0" width="1.4" height="262" fill="#5a5a5a"/>
</svg>
</body></html>
